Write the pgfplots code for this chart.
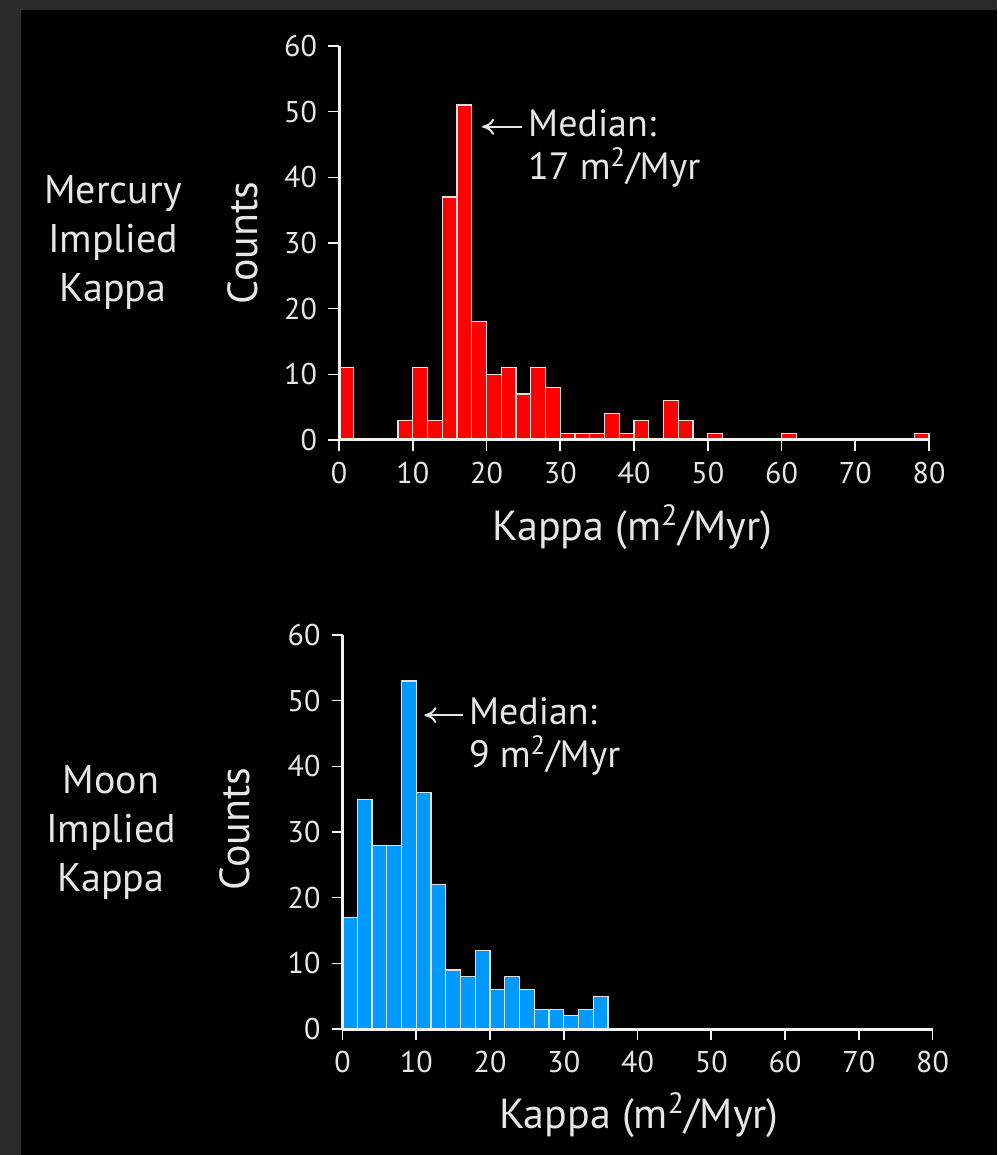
\documentclass[border=0pt]{standalone}
\usepackage{fontspec}
\setmainfont{PT Sans}
\usepackage{pgfplots}
\pgfplotsset{compat=1.18}
\usetikzlibrary{arrows.meta}
\definecolor{bggray}{HTML}{2B2B2B}
\definecolor{fg}{HTML}{E6E6E6}
\definecolor{axiscol}{HTML}{F2F2F2}
\definecolor{hred}{HTML}{FF0000}
\definecolor{hblue}{HTML}{0099FF}
\definecolor{edgecol}{HTML}{E0E0E0}
\pgfplotsset{
  mystyle/.style={
    scale only axis, width=295pt, height=197pt,
    xmin=0, xmax=80, ymin=0, ymax=60,
    axis lines*=left,
    axis line style={line width=1.5pt, draw=axiscol},
    xtick={0,10,...,80}, ytick={0,10,...,60},
    tick align=outside, major tick length=5.5pt,
    tick style={line width=0.8pt, draw=axiscol},
    ticklabel style={font=\fontsize{15}{18}\selectfont, text=fg},
    xticklabel style={yshift=-2pt},
    yticklabel style={xshift=-2pt},
    /pgf/number format/assume math mode=true,
    axis on top, clip=false,
    ybar, bar width=2, bar shift=0pt,
  }
}
\begin{document}
\begin{tikzpicture}
\fill[bggray] (0,0) rectangle (498.5pt,577.5pt);
\fill[black] (10.5pt,0) rectangle (498.5pt,572.5pt);

% Mercury
\begin{axis}[mystyle, at={(169.5pt,357.5pt)}, anchor=south west]
\addplot[fill=hred, draw=edgecol, line width=0.6pt] coordinates {
(1,11) (9,3) (11,11) (13,3) (15,37) (17,51) (19,18) (21,10) (23,11) (25,7)
(27,11) (29,8) (31,1) (33,1) (35,1) (37,4) (39,1) (41,3) (45,6) (47,3)
(51,1) (61,1) (79,1)};
\draw[fg, line width=1pt, -{To[length=6pt,width=8pt]}] (axis cs:24.8,47.7) -- (axis cs:19.4,47.7);
\node[anchor=west, align=left, text=fg, font=\fontsize{19}{21.5}\selectfont, inner sep=0pt] at (axis cs:25.6,44.4) {Median:\\17 m\textsuperscript{2}/Myr};
\end{axis}

% Moon
\begin{axis}[mystyle, at={(171.25pt,63pt)}, anchor=south west]
\addplot[fill=hblue, draw=edgecol, line width=0.6pt] coordinates {
(1,17) (3,35) (5,28) (7,28) (9,53) (11,36) (13,22) (15,9) (17,8) (19,12)
(21,6) (23,8) (25,6) (27,3) (29,3) (31,2) (33,3) (35,5)};
\draw[fg, line width=1pt, -{To[length=6pt,width=8pt]}] (axis cs:16.4,47.8) -- (axis cs:11.1,47.8);
\node[anchor=west, align=left, text=fg, font=\fontsize{19}{21.5}\selectfont, inner sep=0pt] at (axis cs:17.1,44.6) {Median:\\9 m\textsuperscript{2}/Myr};
\end{axis}

% labels
\node[text=fg, font=\fontsize{21}{24}\selectfont, rotate=90] at (121.5pt,456pt) {Counts};
\node[text=fg, font=\fontsize{21}{24}\selectfont, rotate=90] at (117.5pt,163pt) {Counts};
\node[text=fg, font=\fontsize{21}{24}\selectfont] at (316.25pt,314pt) {Kappa (m\textsuperscript{2}/Myr)};
\node[text=fg, font=\fontsize{21}{24}\selectfont] at (319.5pt,20pt) {Kappa (m\textsuperscript{2}/Myr)};
\node[text=fg, font=\fontsize{20}{24.5}\selectfont, align=center] at (56.5pt,456pt) {Mercury\\Implied\\Kappa};
\node[text=fg, font=\fontsize{20}{24.5}\selectfont, align=center] at (55.5pt,161pt) {Moon\\Implied\\Kappa};
\end{tikzpicture}
\end{document}
